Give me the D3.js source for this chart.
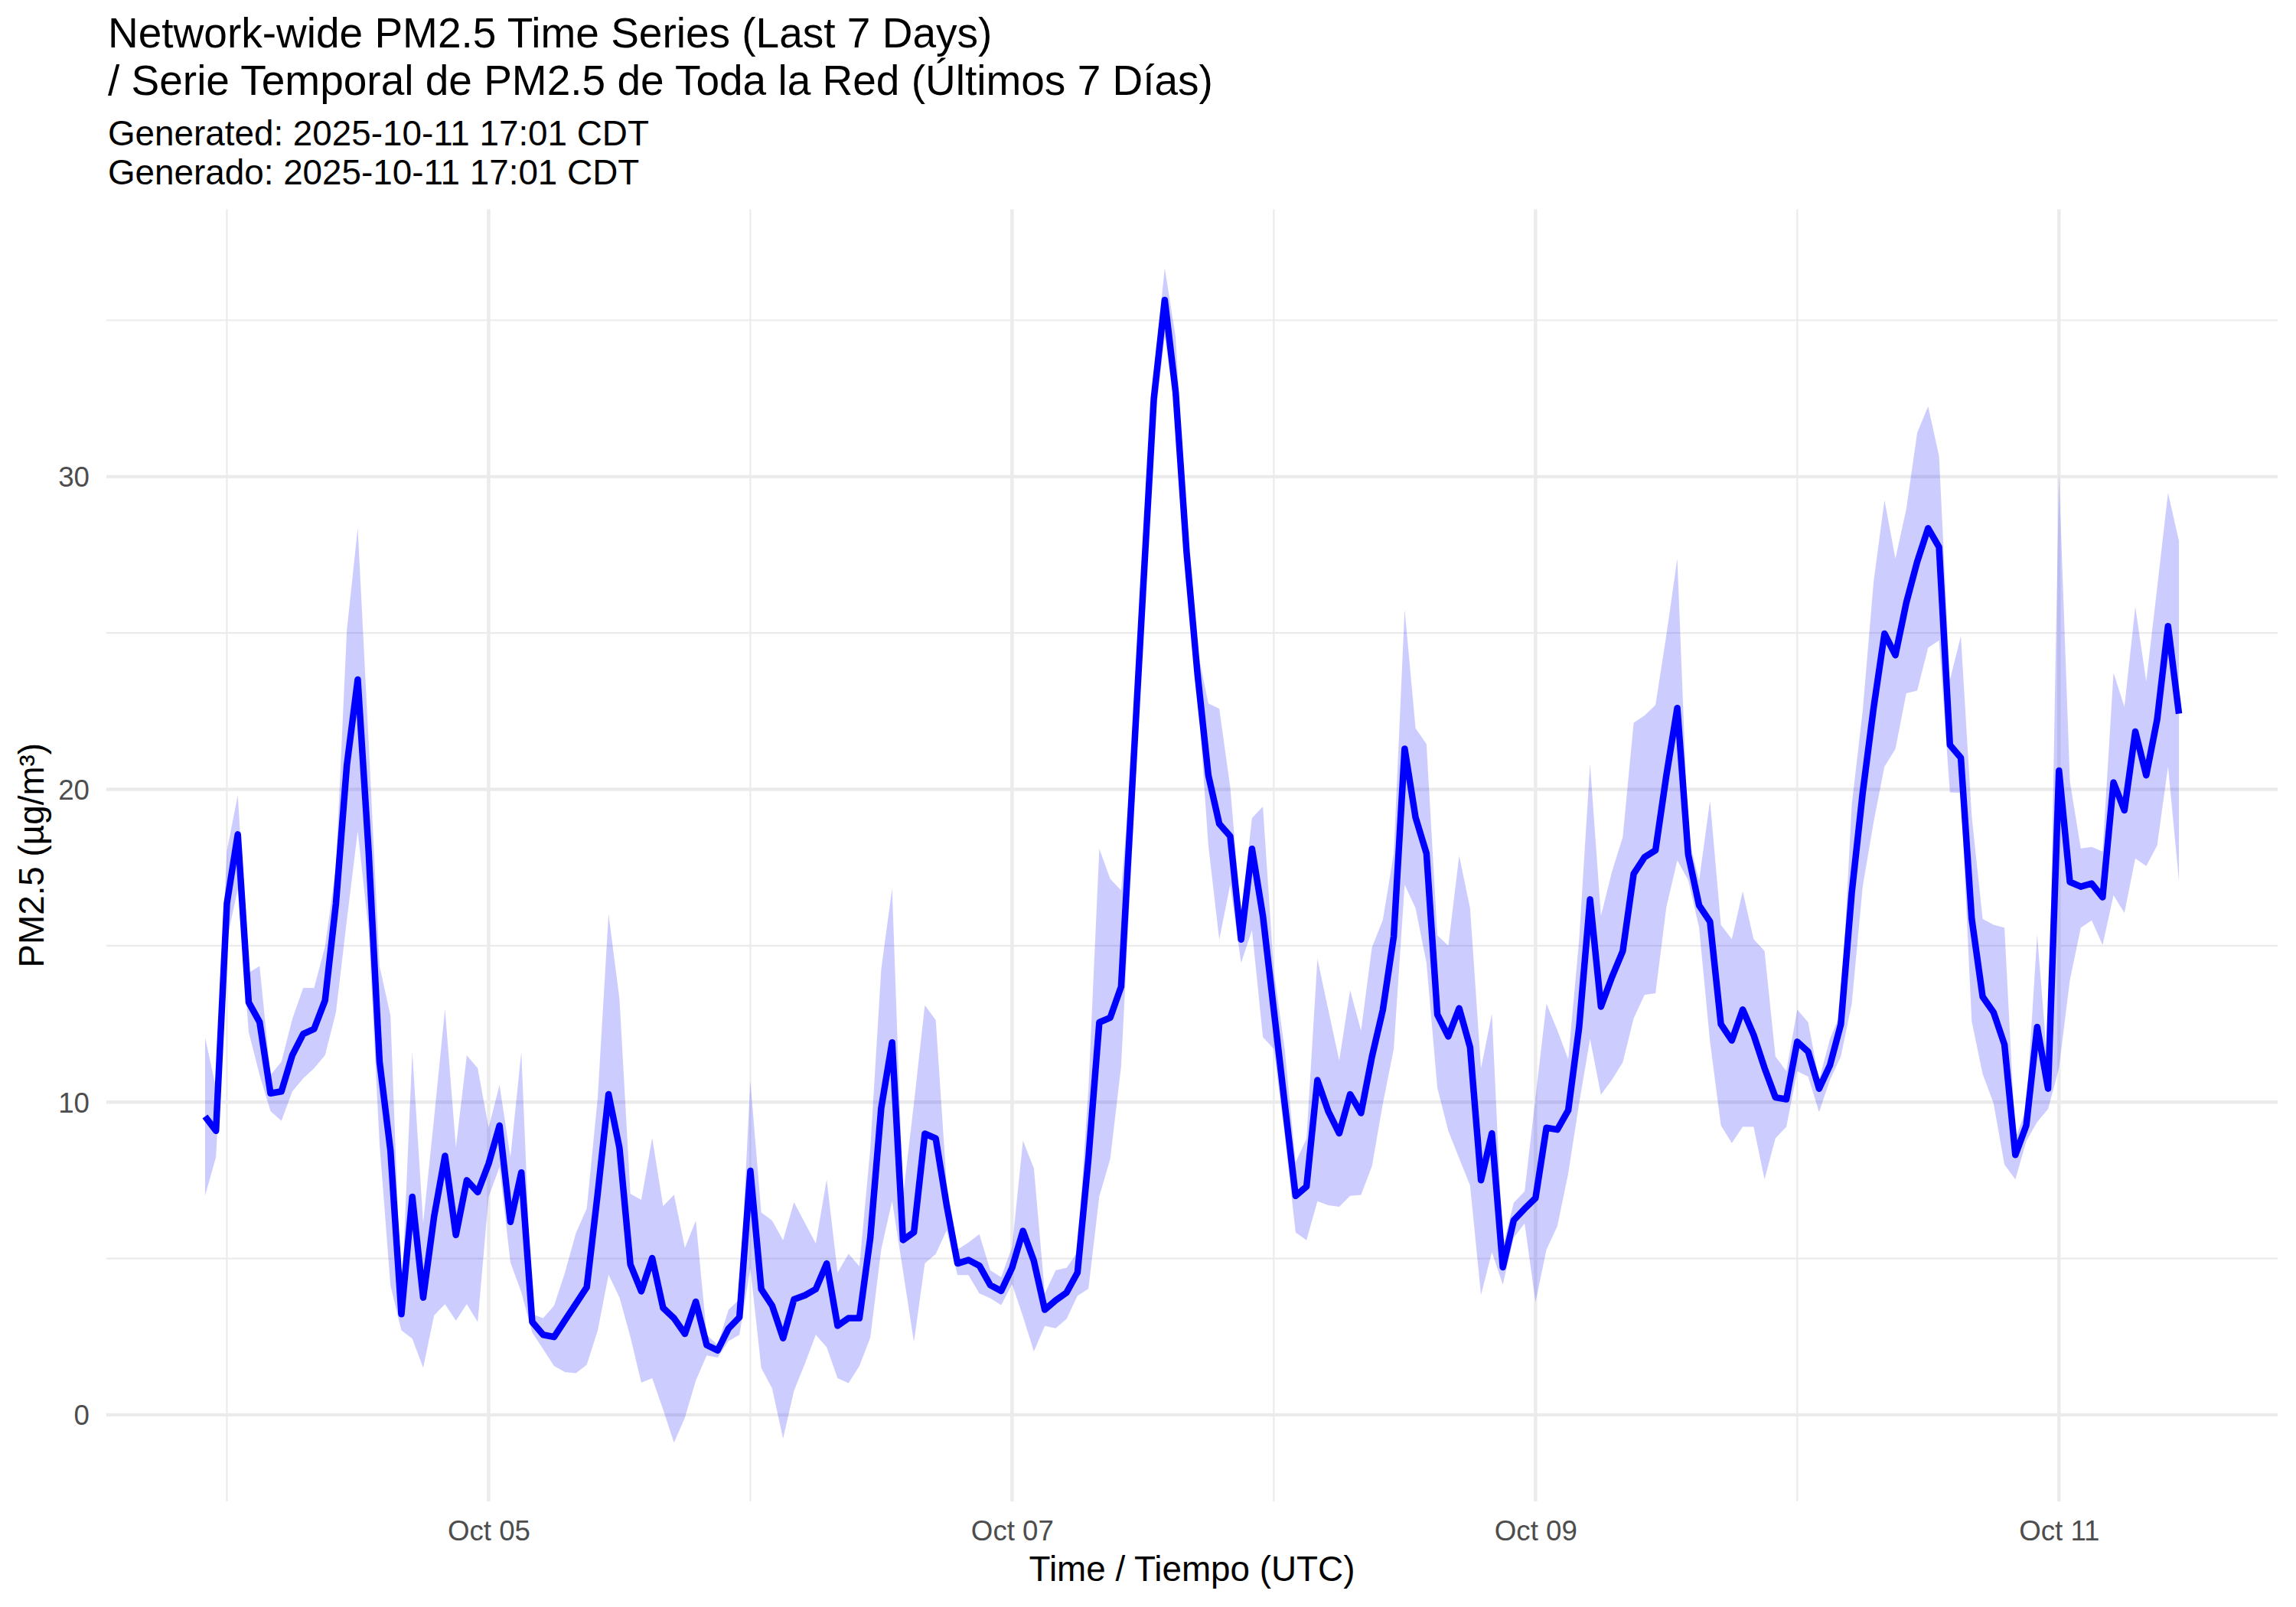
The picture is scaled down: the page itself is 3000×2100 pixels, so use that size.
<!DOCTYPE html>
<html>
<head>
<meta charset="utf-8">
<script src="https://cdn.jsdelivr.net/npm/d3@7"></script>
<style>
  body { margin: 0; background: #fff; }
  text { font-family: "Liberation Sans", Arial, Helvetica, sans-serif; }
</style>
</head>
<body>
<div class="chart"></div>
<script>
// hourly network mean with its band, first reading Oct 03 22:00 UTC
const startTime = Date.UTC(2025, 9, 3, 22);

const pmMean = [
  9.54, 9.08, 16.35, 18.56, 13.19, 12.56, 10.28, 10.34, 11.5, 12.18,
  12.34, 13.25, 16.35, 20.77, 23.51, 18.0, 11.29, 8.45, 3.22, 6.97,
  3.75, 6.34, 8.28, 5.75, 7.5, 7.12, 8.03, 9.25, 6.17, 7.75,
  2.97, 2.56, 2.49, 3.02, 3.55, 4.08, 7.07, 10.25, 8.53, 4.81,
  3.95, 5.01, 3.42, 3.09, 2.59, 3.62, 2.23, 2.06, 2.76, 3.12,
  7.8, 4.02, 3.49, 2.45, 3.69, 3.82, 4.02, 4.84, 2.85, 3.09,
  3.09, 5.66, 9.81, 11.91, 5.59, 5.84, 8.99, 8.84, 6.70, 4.84,
  4.95, 4.77, 4.15, 3.96, 4.70, 5.88, 4.92, 3.36, 3.66, 3.91,
  4.55, 8.18, 12.55, 12.7, 13.69, 20.0, 26.3, 32.5, 35.65, 32.7,
  27.6, 23.7, 20.45, 18.9, 18.5, 15.2, 18.1, 15.95, 12.95, 9.95,
  7.0, 7.3, 10.7, 9.7, 9.0, 10.25, 9.65, 11.45, 12.95, 15.3,
  21.3, 19.1, 17.95, 12.8, 12.1, 13.0, 11.75, 7.5, 9.0, 4.72,
  6.22, 6.59, 6.93, 9.18, 9.12, 9.74, 12.4, 16.48, 13.05, 13.99,
  14.83, 17.3, 17.83, 18.05, 20.45, 22.6, 17.92, 16.29, 15.77, 12.49,
  11.97, 12.96, 12.15, 11.09, 10.15, 10.09, 11.93, 11.61, 10.43, 11.18,
  12.49, 16.7, 19.89, 22.6, 24.98, 24.29, 25.97, 27.28, 28.35, 27.75,
  21.42, 21.01, 15.86, 13.37, 12.87, 11.84, 8.31, 9.25, 12.4, 10.43,
  20.6, 17.04, 16.89, 16.99, 16.55, 20.22, 19.33, 21.85, 20.45, 22.23,
  25.22, 22.42
];

const pmUpper = [
  12.07, 10.45, 18.03, 19.82, 14.14, 14.35, 10.87, 11.29, 12.66, 13.65,
  13.65, 14.98, 17.5, 25.09, 28.35, 21.5, 14.35, 12.77, 3.6, 11.61,
  6.13, 9.5, 12.98, 8.55, 11.5, 11.08, 9.18, 10.55, 8.24, 11.61,
  3.22, 3.09, 3.49, 4.55, 5.81, 6.60, 10.12, 16.02, 13.30, 7.07,
  6.87, 8.86, 6.67, 7.04, 5.34, 6.21, 2.56, 2.23, 3.36, 3.69,
  10.68, 6.47, 6.21, 5.58, 6.80, 6.14, 5.48, 7.53, 4.55, 5.15,
  4.75, 8.5, 14.25, 16.84, 6.99, 9.96, 13.10, 12.62, 7.4, 5.29,
  5.51, 5.78, 4.62, 4.40, 5.36, 8.77, 7.88, 3.88, 4.62, 4.70,
  5.21, 10.4, 18.1, 17.14, 16.77, 21.0, 27.5, 33.3, 36.67, 34.45,
  28.3, 24.45, 22.75, 22.58, 20.08, 15.95, 19.08, 19.45, 14.2, 11.7,
  8.08, 8.83, 14.58, 12.95, 11.33, 13.58, 12.28, 14.95, 15.83, 17.95,
  25.75, 21.95, 21.45, 15.33, 15.0, 17.88, 16.2, 11.08, 12.83, 5.37,
  6.78, 7.15, 10.15, 13.15, 12.3, 11.37, 15.2, 20.82, 15.96, 17.36,
  18.48, 22.13, 22.36, 22.7, 24.94, 27.38, 18.5, 17.08, 19.64, 15.67,
  15.21, 16.74, 15.21, 14.83, 11.46, 10.99, 12.96, 12.55, 10.71, 12.02,
  12.87, 19.51, 22.51, 26.63, 29.25, 27.38, 28.97, 31.4, 32.25, 30.66,
  23.5, 24.9, 19.14, 15.86, 15.67, 15.58, 8.84, 9.78, 15.36, 11.0,
  30.09, 20.26, 18.11, 18.16, 18.01, 23.73, 22.64, 25.84, 23.45, 26.44,
  29.48, 27.94
];

const pmLower = [
  7.01, 8.24, 15.19, 16.8, 12.24, 10.87, 9.71, 9.40, 10.34, 10.76,
  11.08, 11.5, 12.87, 15.82, 18.66, 15.5, 8.66, 4.13, 2.7, 2.44,
  1.5, 3.18, 3.54, 3.01, 3.54, 2.97, 6.97, 7.92, 4.87, 3.92,
  2.63, 2.10, 1.56, 1.37, 1.33, 1.60, 2.69, 4.48, 3.75, 2.49,
  1.03, 1.17, 0.17, -0.89, -0.09, 1.10, 1.90, 1.83, 2.36, 2.56,
  4.68, 1.50, 0.84, -0.76, 0.77, 1.63, 2.56, 2.16, 1.17, 1.01,
  1.56, 2.47, 5.29, 6.84, 4.6, 2.33, 4.84, 5.14, 5.9, 4.47,
  4.47, 3.88, 3.73, 3.51, 4.18, 3.14, 2.03, 2.84, 2.77, 3.07,
  3.81, 4.03, 6.99, 8.18, 11.14, 18.0, 25.0, 31.5, 34.5, 32.0,
  27.0, 23.2, 18.2, 15.2, 16.95, 14.45, 15.5, 12.08, 11.7, 8.95,
  5.83, 5.58, 6.83, 6.7, 6.65, 7.0, 7.03, 7.95, 9.95, 11.7,
  16.95, 16.2, 14.45, 10.45, 9.08, 8.2, 7.33, 3.83, 5.2, 4.16,
  5.66, 6.12, 3.6, 5.28, 6.03, 7.72, 9.96, 12.02, 10.24, 10.71,
  11.27, 12.68, 13.43, 13.48, 16.24, 17.73, 17.1, 15.58, 11.93, 9.25,
  8.69, 9.21, 9.21, 7.53, 8.84, 9.21, 10.99, 10.81, 9.68, 10.71,
  11.46, 13.15, 16.89, 18.95, 20.73, 21.29, 23.07, 23.16, 24.53, 24.76,
  19.9, 19.89, 12.58, 10.9, 9.96, 8.0, 7.53, 8.75, 9.36, 9.78,
  11.09, 13.9, 15.58, 15.81, 15.02, 16.61, 16.05, 17.79, 17.55, 18.2,
  20.73, 17.08
];

const yMajorTicks = [0, 10, 20, 30];
const yMinorTicks = [5, 15, 25, 35];
const xMajorTicks = [Date.UTC(2025, 9, 5), Date.UTC(2025, 9, 7), Date.UTC(2025, 9, 9), Date.UTC(2025, 9, 11)];
const xMinorTicks = [Date.UTC(2025, 9, 4), Date.UTC(2025, 9, 6), Date.UTC(2025, 9, 8), Date.UTC(2025, 9, 10)];

const titleLines = ["Network-wide PM2.5 Time Series (Last 7 Days)", "/ Serie Temporal de PM2.5 de Toda la Red (Últimos 7 Días)"];
const subtitleLines = ["Generated: 2025-10-11 17:01 CDT", "Generado: 2025-10-11 17:01 CDT"];

const width = 3000, height = 2100;
const panel = { left: 139, right: 2976, top: 273.5, bottom: 1962 };

const data = pmMean.map((v, i) => ({
  time: new Date(startTime + i * 3600 * 1000),
  mean: v,
  lower: pmLower[i],
  upper: pmUpper[i]
}));

// ggplot style 5% expansion on both axes
const tExtent = d3.extent(data, d => d.time);
const tPad = (tExtent[1] - tExtent[0]) * 0.05;
const x = d3.scaleUtc()
  .domain([new Date(+tExtent[0] - tPad), new Date(+tExtent[1] + tPad)])
  .range([panel.left, panel.right]);

const yMin = d3.min(pmLower), yMax = d3.max(pmUpper);
const yPad = (yMax - yMin) * 0.05;
const y = d3.scaleLinear()
  .domain([yMin - yPad, yMax + yPad])
  .range([panel.bottom, panel.top]);

const svg = d3.select('.chart')
  .append('svg')
  .attr('width', width)
  .attr('height', height);

svg.append('rect').attr('width', width).attr('height', height).attr('fill', '#fff');

// grid
const grid = svg.append('g').attr('stroke', '#EBEBEB');
grid.selectAll('.ymin').data(yMinorTicks).enter().append('line')
  .attr('x1', panel.left).attr('x2', panel.right)
  .attr('y1', d => y(d)).attr('y2', d => y(d))
  .attr('stroke-width', 2.2);
grid.selectAll('.xmin').data(xMinorTicks).enter().append('line')
  .attr('y1', panel.top).attr('y2', panel.bottom)
  .attr('x1', d => x(d)).attr('x2', d => x(d))
  .attr('stroke-width', 2.2);
grid.selectAll('.ymaj').data(yMajorTicks).enter().append('line')
  .attr('x1', panel.left).attr('x2', panel.right)
  .attr('y1', d => y(d)).attr('y2', d => y(d))
  .attr('stroke-width', 4.4);
grid.selectAll('.xmaj').data(xMajorTicks).enter().append('line')
  .attr('y1', panel.top).attr('y2', panel.bottom)
  .attr('x1', d => x(d)).attr('x2', d => x(d))
  .attr('stroke-width', 4.4);

// ribbon
const area = d3.area()
  .x(d => x(d.time))
  .y0(d => y(d.lower))
  .y1(d => y(d.upper));

svg.append('path')
  .datum(data)
  .attr('d', area)
  .attr('fill', 'blue')
  .attr('fill-opacity', 0.2);

// mean line
const line = d3.line()
  .x(d => x(d.time))
  .y(d => y(d.mean));

svg.append('path')
  .datum(data)
  .attr('d', line)
  .attr('fill', 'none')
  .attr('stroke', 'blue')
  .attr('stroke-width', 8.5)
  .attr('stroke-linejoin', 'round');

// axes (text only, like theme_minimal)
const xAxis = d3.axisBottom(x)
  .tickValues(xMajorTicks.map(t => new Date(t)))
  .tickFormat(d3.utcFormat('%b %d'))
  .tickSize(0)
  .tickPadding(0);

const gx = svg.append('g')
  .attr('transform', `translate(0,${panel.bottom})`)
  .call(xAxis);
gx.select('.domain').remove();
gx.selectAll('text')
  .attr('dy', null)
  .attr('y', 51)
  .attr('font-size', 36.7)
  .attr('fill', '#4D4D4D')
  .attr('font-family', '"Liberation Sans", Arial, Helvetica, sans-serif');

const yAxis = d3.axisLeft(y)
  .tickValues(yMajorTicks)
  .tickFormat(d3.format('d'))
  .tickSize(0)
  .tickPadding(0);

const gy = svg.append('g')
  .attr('transform', `translate(117,0)`)
  .call(yAxis);
gy.select('.domain').remove();
gy.selectAll('text')
  .attr('x', 0)
  .attr('dy', '0.35em')
  .attr('font-size', 36.7)
  .attr('fill', '#4D4D4D')
  .attr('font-family', '"Liberation Sans", Arial, Helvetica, sans-serif');

// titles
svg.selectAll('.title').data(titleLines).enter().append('text')
  .attr('x', 141)
  .attr('y', (d, i) => 62 + i * 62)
  .attr('font-size', 55)
  .attr('fill', '#000')
  .text(d => d);

svg.selectAll('.subtitle').data(subtitleLines).enter().append('text')
  .attr('x', 141)
  .attr('y', (d, i) => 190 + i * 51)
  .attr('font-size', 45.8)
  .attr('fill', '#000')
  .text(d => d);

svg.append('text')
  .attr('x', (panel.left + panel.right) / 2)
  .attr('y', 2066)
  .attr('text-anchor', 'middle')
  .attr('font-size', 45.8)
  .text('Time / Tiempo (UTC)');

svg.append('text')
  .attr('transform', `translate(57,${(panel.top + panel.bottom) / 2}) rotate(-90)`)
  .attr('text-anchor', 'middle')
  .attr('font-size', 45.8)
  .text('PM2.5 (µg/m³)');
</script>
</body>
</html>
